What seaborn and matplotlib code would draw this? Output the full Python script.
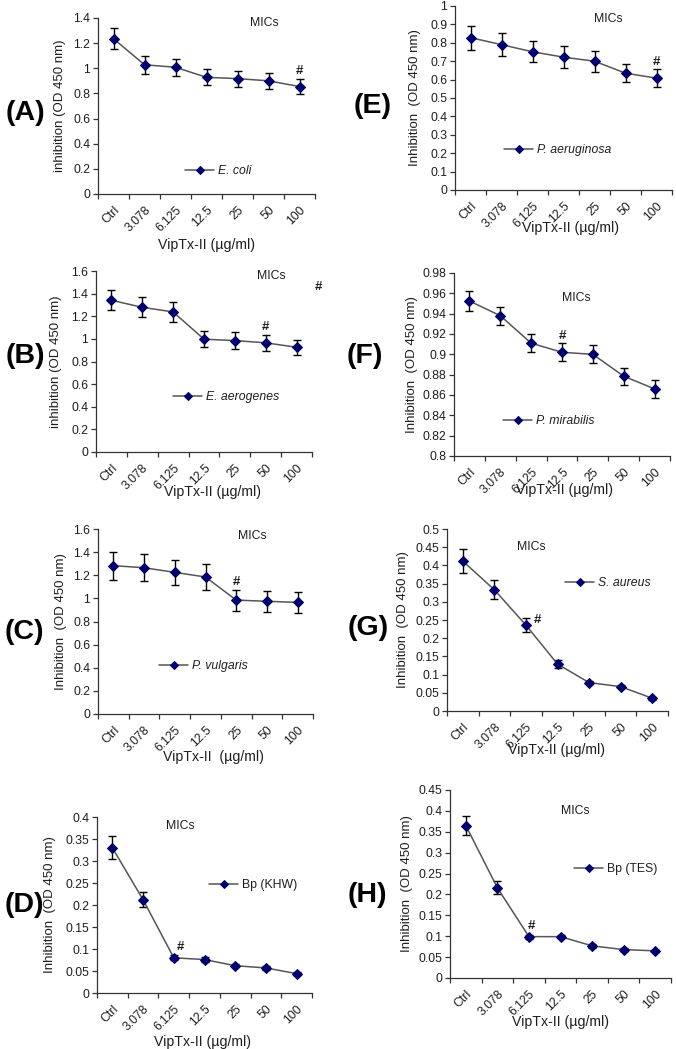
import numpy as np
import pandas as pd
import matplotlib
matplotlib.use("Agg")
import matplotlib.pyplot as plt
import seaborn as sns

# ---------------- data ----------------
categories = ["Ctrl", "3.078", "6.125", "12.5", "25", "50", "100"]

a_vals = [1.235, 1.028, 1.008, 0.928, 0.918, 0.900, 0.855]
a_err = [0.085, 0.070, 0.067, 0.063, 0.063, 0.065, 0.060]

e_vals = [0.828, 0.790, 0.751, 0.722, 0.700, 0.635, 0.608]
e_err = [0.066, 0.062, 0.058, 0.060, 0.058, 0.048, 0.050]

b_vals = [1.341, 1.279, 1.238, 0.997, 0.985, 0.965, 0.926]
b_err = [0.090, 0.090, 0.090, 0.070, 0.072, 0.070, 0.065]

f_vals = [0.9525, 0.9380, 0.9110, 0.9020, 0.9000, 0.8785, 0.8660]
f_err = [0.0095, 0.0090, 0.0090, 0.0090, 0.0090, 0.0085, 0.0090]

c_vals = [1.283, 1.265, 1.225, 1.185, 0.985, 0.975, 0.965]
c_err = [0.120, 0.118, 0.110, 0.110, 0.090, 0.090, 0.090]

g_vals = [0.412, 0.333, 0.236, 0.129, 0.078, 0.067, 0.035]
g_err = [0.034, 0.026, 0.019, 0.010, 0.005, 0.005, 0.004]

d_vals = [0.330, 0.212, 0.080, 0.076, 0.062, 0.057, 0.044]
d_err = [0.026, 0.017, 0.006, 0.005, 0.004, 0.004, 0.003]

h_vals = [0.365, 0.216, 0.099, 0.099, 0.077, 0.068, 0.065]
h_err = [0.023, 0.015, 0.005, 0.004, 0.004, 0.004, 0.003]

legend_labels = {"A": "E. coli", "E": "P. aeruginosa", "B": "E. aerogenes",
                 "F": "P. mirabilis", "C": "P. vulgaris", "G": "S. aureus",
                 "D": "Bp (KHW)", "H": "Bp (TES)"}
ylabels = {"A": "inhibition (OD 450 nm)", "B": "inhibition (OD 450 nm)",
           "C": "Inhibition  (OD 450 nm)", "D": "Inhibition  (OD 450 nm)",
           "E": "Inhibition  (OD 450 nm)", "F": "Inhibition  (OD 450 nm)",
           "G": "Inhibition  (OD 450 nm)", "H": "Inhibition  (OD 450 nm)"}
xlabels = {"A": "VipTx-II (µg/ml)", "B": "VipTx-II (µg/ml)",
           "C": "VipTx-II  (µg/ml)", "D": "VipTx-II (µg/ml)",
           "E": "VipTx-II (µg/ml)", "F": "VipTx-II (µg/ml)",
           "G": "VipTx-II (µg/ml)", "H": "VipTx-II (µg/ml)"}
# y-axis range and tick step
yranges = {"A": (0, 1.4, 0.2), "E": (0, 1.0, 0.1), "B": (0, 1.6, 0.2),
           "F": (0.8, 0.98, 0.02), "C": (0, 1.6, 0.2), "G": (0, 0.5, 0.05),
           "D": (0, 0.4, 0.05), "H": (0, 0.45, 0.05)}
# significance marker (category index, y)
sig = {"A": (6, 0.975), "E": (6, 0.697), "B": (5, 1.106), "F": (3, 0.918),
       "C": (4, 1.145), "G": (2.37, 0.25), "D": (2.22, 0.104), "H": (2.08, 0.125)}

series = {"A": (a_vals, a_err), "E": (e_vals, e_err), "B": (b_vals, b_err),
          "F": (f_vals, f_err), "C": (c_vals, c_err), "G": (g_vals, g_err),
          "D": (d_vals, d_err), "H": (h_vals, h_err)}

# ---------------- layout (pixels) ----------------
W, H = 676, 1049
boxes = {  # left, top, right, bottom
    "A": (98, 18, 315, 194), "E": (455, 6, 672, 190),
    "B": (96, 271, 312, 452), "F": (454, 273, 670, 456),
    "C": (98, 529, 313, 714), "G": (447, 529, 668, 711),
    "D": (97, 817, 312, 993), "H": (450, 790, 671, 978),
}
panel_lbl = {"A": (25, 113), "E": (373, 106), "B": (25, 356), "F": (365, 356),
             "C": (24, 632), "G": (368, 628), "D": (24, 905), "H": (367, 895)}
mics_pos = {"A": (264, 23), "E": (608, 19), "B": (271, 276), "F": (576, 298),
            "C": (252, 536), "G": (531, 547), "D": (180, 826), "H": (575, 811)}
leg_pos = {"A": (185, 171), "E": (504, 150), "B": (173, 397), "F": (503, 421),
           "C": (159, 666), "G": (565, 583), "D": (209, 885), "H": (574, 869)}
ylab_x = {"A": 60, "E": 415, "B": 56, "F": 412, "C": 61, "G": 403, "D": 50, "H": 407}
xlab_pos = {"A": (207, 245), "E": (571, 228), "B": (213, 492), "F": (565, 490),
            "C": (213, 757), "G": (556, 750), "D": (203, 1042), "H": (561, 1022)}

sns.set_theme(style="white")
plt.rcParams["font.family"] = ["Liberation Sans", "DejaVu Sans"]

TXT = "#1e1e1e"
NAVY = "#00006e"
LINE = "#555555"
SPINE = "#333333"

fig = plt.figure(figsize=(W / 100, H / 100), dpi=100)
fig.patch.set_facecolor("white")


def fx(x):
    return x / W


def fy(y):
    return 1 - y / H


for key, (l, t, r, b) in boxes.items():
    ax = fig.add_axes([fx(l), fy(b), (r - l) / W, (b - t) / H])
    vals, errs = series[key]
    df = pd.DataFrame({"dose": categories, "value": vals, "err": errs})
    sns.lineplot(data=df, x="dose", y="value", ax=ax, sort=False,
                 color=LINE, lw=1.1, marker="D", markersize=4.6,
                 markerfacecolor=NAVY, markeredgecolor=NAVY,
                 label=legend_labels[key], zorder=3)
    ax.errorbar(np.arange(len(categories)), df["value"], yerr=df["err"],
                fmt="none", ecolor="black", elinewidth=1.0, capsize=3.0,
                capthick=1.0, zorder=2)

    y0, y1, step = yranges[key]
    ax.set_xlim(-0.5, len(categories) - 0.5)
    ax.set_ylim(y0, y1)
    yt = np.round(np.arange(y0, y1 + step / 2, step), 4)
    ax.set_yticks(yt)
    ax.set_yticklabels([f"{v:g}" for v in yt], fontsize=8.8, color=TXT)
    ax.set_xticks(np.arange(len(categories)))
    ax.set_xticklabels(categories, rotation=45, ha="right",
                       rotation_mode="anchor", fontsize=8.8, color=TXT)
    ax.set_xticks(np.arange(-0.5, len(categories), 1), minor=True)
    ax.tick_params(axis="x", which="major", length=0, pad=7)
    ax.tick_params(axis="x", which="minor", length=3.5, width=0.9,
                   direction="out", color=SPINE, bottom=True)
    ax.tick_params(axis="y", which="major", length=3.5, width=0.9,
                   direction="out", color=SPINE, left=True, pad=2)
    for s in ["top", "right"]:
        ax.spines[s].set_visible(False)
    for s in ["left", "bottom"]:
        ax.spines[s].set_color(SPINE)
        ax.spines[s].set_linewidth(0.9)
    ax.set_facecolor("white")
    ax.grid(False)

    ax.set_xlabel("")
    ax.set_ylabel("")
    fig.text(fx(xlab_pos[key][0]), fy(xlab_pos[key][1]), xlabels[key],
             ha="center", va="center", fontsize=10.2, color=TXT)
    fig.text(fx(ylab_x[key]), fy((t + b) / 2), ylabels[key], rotation=90,
             ha="center", va="center", fontsize=9.5, color=TXT)

    # legend
    italic = not legend_labels[key].startswith("Bp")
    lx, ly = leg_pos[key]
    leg = ax.legend(loc="center left", bbox_to_anchor=(fx(lx), fy(ly)),
                    bbox_transform=fig.transFigure, frameon=False,
                    borderpad=0, borderaxespad=0, handlelength=2.4,
                    handletextpad=0.3, fontsize=8.8, markerscale=0.85)
    for txt in leg.get_texts():
        txt.set_color(TXT)
        if italic:
            txt.set_style("italic")

    ax.text(fx(mics_pos[key][0]), fy(mics_pos[key][1]), "MICs",
            transform=fig.transFigure, ha="center", va="center",
            fontsize=8.8, color=TXT)
    sx, sy = sig[key]
    ax.text(sx, sy, "#", ha="center", va="center", fontsize=9.5,
            fontweight="bold", color=TXT)

    fig.text(fx(panel_lbl[key][0]), fy(panel_lbl[key][1]), f"({key})",
             ha="center", va="center", fontsize=20.5, fontweight="bold",
             color="black")

# stray significance marker in panel B
fig.text(fx(318), fy(287), "#", ha="center", va="center", fontsize=9.5,
         fontweight="bold", color=TXT)

fig.savefig("out.png", dpi=100, facecolor="white")
